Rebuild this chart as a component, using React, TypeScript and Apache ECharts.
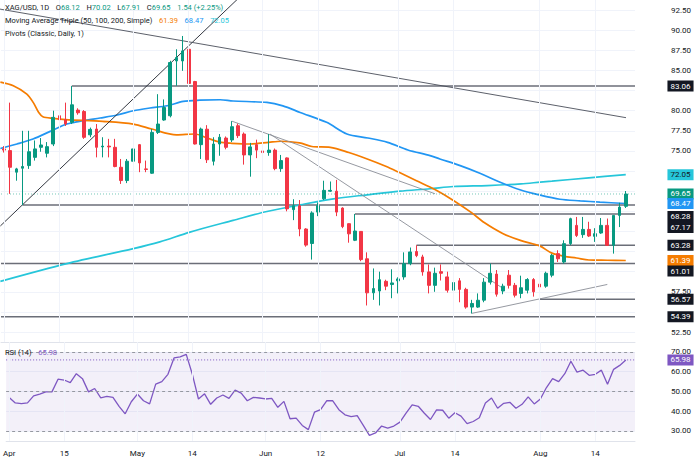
import React, { useEffect, useRef } from 'react';
import * as echarts from 'echarts';

const FONT = 'Roboto, "Noto Sans", sans-serif';
const GREEN = '#089981';
const RED = '#f23645';
const ORANGE = '#f57c00';
const BLUE = '#2196f3';
const CYAN = '#26c6da';
const PURPLE = '#7e57c2';
const DARK = '#131722';
const GRID = '#f0f3fa';
const PIVOT = '#6b6e78';

// trading days (2026), plus one empty slot on the right
const dates = [
  '2026-04-01','2026-04-02','2026-04-06','2026-04-07','2026-04-08','2026-04-09','2026-04-10','2026-04-13','2026-04-14','2026-04-15',
  '2026-04-16','2026-04-17','2026-04-20','2026-04-21','2026-04-22','2026-04-23','2026-04-24','2026-04-27','2026-04-28','2026-04-29',
  '2026-04-30','2026-05-01','2026-05-04','2026-05-05','2026-05-06','2026-05-07','2026-05-08','2026-05-11','2026-05-12','2026-05-13',
  '2026-05-14','2026-05-15','2026-05-18','2026-05-19','2026-05-20','2026-05-21','2026-05-22','2026-05-25','2026-05-26','2026-05-27',
  '2026-05-28','2026-05-29','2026-06-01','2026-06-02','2026-06-03','2026-06-04','2026-06-05','2026-06-08','2026-06-09','2026-06-10',
  '2026-06-11','2026-06-12','2026-06-15','2026-06-16','2026-06-17','2026-06-18','2026-06-19','2026-06-22','2026-06-23','2026-06-24',
  '2026-06-25','2026-06-26','2026-06-29','2026-06-30','2026-07-01','2026-07-02','2026-07-03','2026-07-06','2026-07-07','2026-07-08',
  '2026-07-09','2026-07-10','2026-07-13','2026-07-14','2026-07-15','2026-07-16','2026-07-17','2026-07-20','2026-07-21','2026-07-22',
  '2026-07-23','2026-07-24','2026-07-27','2026-07-28','2026-07-29','2026-07-30','2026-07-31','2026-08-03','2026-08-04','2026-08-05',
  '2026-08-06','2026-08-07','2026-08-10','2026-08-11','2026-08-12','2026-08-13','2026-08-14','2026-08-17','2026-08-18','2026-08-19',
  '2026-08-20','2026-08-21',
];
const futureDates = ['2026-08-24'];

const opens = [
  75.25,75.04,72.36,72.85,73.18,74.2,75.45,74.71,75.86,79.37,
  78.88,78.55,80.07,79.9,77.0,77.72,75.5,75.6,75.45,72.97,
  71.32,73.72,75.78,72.77,72.23,77.3,78.84,79.37,86.18,86.18,
  87.63,83.62,75.78,77.7,73.72,75.86,76.6,76.36,78.13,77.1,
  74.5,75.78,75.0,74.8,75.1,72.8,74.13,67.7,68.2,65.3,
  63.5,67.4,69.05,70.0,70.0,67.9,65.96,63.9,65.0,61.6,
  57.37,57.6,58.8,58.4,58.86,59.35,61.0,62.5,61.83,59.97,
  58.3,60.0,59.35,57.7,58.86,57.8,55.6,55.6,56.46,58.7,
  59.7,57.6,59.56,58.3,57.3,57.7,59.02,58.45,58.2,59.56,
  62.24,61.2,63.48,65.75,64.6,65.25,64.39,64.8,65.75,63.27,
  66.99,68.12,
];
const highs = [
  75.6,81.0,72.9,77.5,77.5,76.3,76.6,76.1,80.0,81.0,
  81.0,83.06,80.3,80.07,77.9,78.34,76.7,76.5,76.5,74.0,
  74.0,76.9,75.86,73.8,77.72,82.05,81.4,86.2,87.63,89.28,
  88.45,83.7,77.9,78.2,76.7,77.1,76.8,78.7,78.4,77.3,
  76.0,76.4,76.3,77.1,75.3,74.5,74.2,69.0,68.9,65.4,
  67.5,68.6,71.3,71.2,71.4,68.0,66.0,67.17,65.05,62.4,
  60.4,60.0,59.0,60.3,59.3,62.4,63.0,63.28,62.1,60.9,
  60.5,60.9,60.0,59.6,59.2,58.0,56.5,57.3,59.2,61.0,
  60.2,58.5,60.2,58.6,59.5,59.2,59.2,59.1,60.0,62.2,
  62.66,63.9,66.7,66.8,66.8,66.2,65.4,66.66,66.6,67.0,
  68.56,70.02,
];
const lows = [
  74.8,69.67,71.3,68.28,72.77,73.8,74.9,74.2,75.6,78.3,
  78.1,78.34,79.5,76.5,76.7,74.2,74.2,74.2,72.97,70.9,
  71.0,73.6,72.36,72.36,72.15,77.1,78.75,79.17,83.09,84.95,
  83.3,75.8,74.0,73.5,73.2,74.4,75.2,76.1,76.6,73.3,
  71.8,74.1,73.2,74.4,72.6,72.4,67.5,66.4,64.4,63.1,
  61.5,66.9,68.9,69.9,66.9,65.4,63.6,63.8,61.3,55.8,
  56.5,55.8,57.7,56.7,57.3,59.0,60.8,61.8,59.5,57.3,
  57.5,58.9,57.4,57.2,56.2,55.4,54.8,55.5,56.2,58.4,
  56.9,57.2,57.9,56.8,56.7,57.3,56.9,56.57,58.0,59.3,
  61.2,61.0,63.3,64.3,64.2,64.3,63.7,64.7,63.19,62.24,
  65.54,67.91,
];
const closes = [
  75.1,72.97,72.77,73.06,74.9,75.25,75.74,75.53,79.17,78.88,
  78.34,80.73,79.74,76.69,77.68,75.45,75.6,75.5,73.06,71.32,
  73.72,75.25,73.51,72.7,77.3,78.34,80.4,85.98,86.6,87.42,
  83.38,75.86,77.72,73.9,75.86,76.7,75.45,78.01,76.9,74.5,
  75.5,75.1,74.8,75.1,72.8,73.8,67.8,68.2,65.3,63.3,
  67.3,68.2,70.1,70.1,67.4,65.6,64.7,65.05,61.5,57.37,
  57.9,59.0,58.2,58.6,59.1,61.0,62.45,62.0,59.97,58.3,
  59.8,59.8,57.7,58.65,57.8,55.6,56.05,56.45,58.7,59.8,
  57.2,58.2,58.3,57.08,58.0,59.02,57.5,58.1,59.8,62.03,
  61.6,63.48,66.58,64.5,65.25,64.43,64.72,65.75,63.27,66.99,
  68.02,69.65,
];

const rsi14 = [
  47,44.2,43.8,44.2,47.8,48.7,49.8,49.8,56.2,55.8,
  54.5,59,56.5,49.8,51.5,46.8,47.5,47,42.5,38.7,
  44.8,48.7,45.3,43.7,53.7,55,58.7,67,67.5,68.8,
  58.7,46.2,48.8,43.5,46.7,48.2,46.5,50.7,49.2,45.3,
  47,46.7,46.2,46.5,42,45,36.2,36.5,32.8,30.7,
  39.5,40.8,45.3,45.3,40.8,38.2,37.3,37.8,32.8,27.8,
  29,32.5,31.5,32.5,34.5,39,43.2,42.5,39,35.8,
  40.7,40.5,36.5,39.2,37.5,33.7,34.8,36.7,44.2,46.7,
  41.5,44,44.5,41.5,43.5,47.3,43.7,46.2,52,56.5,
  55,59,65.3,59.8,60.8,58.2,58.7,60.8,53.7,61.2,
  63.2,65.98,
];
const rsiLevels = [70, 50, 30];

// moving averages: [bar position, value]
const ma50Points = [
  [-0.6,83.55],[1.5,83.1],[3.7,82.06],[4.75,81.0],[5.6,79.8],[6.3,79.25],[8,79.05],[10,78.9],[16,78.67],[21,78.34],
  [24,77.72],[28,77.0],[31,77.1],[33,76.6],[35,76.1],[37,75.95],[40,75.86],[43,76.07],[45,76.2],[48,76.0],
  [50,75.55],[53,75.45],[56,74.8],[59,74.0],[62,73.1],[64,72.4],[67,71.3],[70,70.2],[73,68.85],[76,67.3],
  [78,66.1],[81,64.75],[84,63.85],[87,63.2],[89,62.3],[91,61.9],[93,61.7],[95,61.45],[98,61.42],[101,61.39],
];
const ma100Points = [
  [-0.6,75.3],[2.1,75.86],[4.7,76.48],[7.5,77.43],[10.2,78.34],[12.8,78.75],[15.6,79.09],[18.4,79.46],[21,79.99],[23.7,80.33],
  [26.5,80.61],[29.1,81.15],[31.8,81.3],[35.1,81.36],[37.2,81.2],[42.7,81.02],[45.3,80.6],[48.1,79.78],[52.4,78.55],[55.7,77.1],
  [59.1,76.61],[62.3,76.07],[65.6,75.12],[69.2,74.42],[70.8,74.0],[74.1,73.18],[77.3,72.23],[80.6,71.11],[83.8,70.17],[87.1,69.5],
  [90.3,69.0],[93.6,68.8],[96.8,68.64],[101,68.47],
];
const ma200Points = [
  [-0.6,58.8],[10.2,61.0],[21,62.86],[25.3,63.7],[30.2,64.92],[37.2,66.37],[42.7,67.48],[48.1,68.3],[53.5,69.05],[59,69.55],
  [64.3,70.0],[69.2,70.3],[73,70.58],[78.5,70.7],[84,70.91],[87.1,71.12],[89,71.24],[95,71.66],[101,72.05],
];

// horizontal levels: price and the bar they start from
const pivotPrices = [83.06, 68.28, 67.17, 63.28, 61.01, 56.57, 54.39];
const pivotStarts = [11, 3, 57, 67, -0.5, 87, -0.5];

// drawn trend lines: [bar position, price] end points
const trendUp = [[-0.6, 65.68], [38.6, 94.35]];
const trendLongDown = [[-0.66, 92.62], [101.04, 79.13]];
const trendSteepDown = [[43.2, 77.1], [80.9, 58.0]];
const trendShallowDown = [[37.0, 78.7], [70.0, 69.68]];
const trendSupport = [[76.0, 54.82], [98.0, 58.41]];

const tickDates = ['2026-04-01','2026-04-15','2026-05-01','2026-05-14','2026-06-01','2026-06-12','2026-07-01','2026-07-14','2026-08-03','2026-08-14'];
const tickTexts = ['Apr','15','May','14','Jun','12','Jul','14','Aug','14'];

const PX_PER_PRICE = 8.075;

export default function App() {
  const ref = useRef<HTMLDivElement>(null);
  useEffect(() => {
    const chart = echarts.init(ref.current as HTMLDivElement, null, { renderer: 'svg' });
    const categories = dates.concat(futureDates);
    const n = categories.length;
    const xMin = -0.5;
    const xMax = n - 0.5;
    const tickIdx = tickDates.map((d) => categories.indexOf(d));
    const lastClose = closes[closes.length - 1];
    const lastRsi = rsi14[rsi14.length - 1];
    const ma50Last = ma50Points[ma50Points.length - 1][1];
    const ma100Last = ma100Points[ma100Points.length - 1][1];
    const ma200Last = ma200Points[ma200Points.length - 1][1];

    const tags = [
      { value: pivotPrices[0], bg: DARK, fg: '#ffffff', dy: 0 },
      { value: ma200Last, bg: CYAN, fg: DARK, dy: 0 },
      { value: lastClose, bg: GREEN, fg: '#ffffff', dy: 0 },
      { value: ma100Last, bg: BLUE, fg: '#ffffff', dy: 0 },
      { value: pivotPrices[1], bg: DARK, fg: '#ffffff', dy: 11.5 },
      { value: pivotPrices[2], bg: DARK, fg: '#ffffff', dy: 13.5 },
      { value: pivotPrices[3], bg: DARK, fg: '#ffffff', dy: 0 },
      { value: ma50Last, bg: ORANGE, fg: '#ffffff', dy: 0 },
      { value: pivotPrices[4], bg: DARK, fg: '#ffffff', dy: 7.5 },
      { value: pivotPrices[5], bg: DARK, fg: '#ffffff', dy: 0 },
      { value: pivotPrices[6], bg: DARK, fg: '#ffffff', dy: 0 },
    ];
    // price level each tag box is drawn at (after being pushed apart)
    const tagLevels = tags.map((t) => t.value - t.dy / PX_PER_PRICE);

    const tagPoint = (t: { value: number; bg: string; fg: string; dy: number }) => ({
      coord: [xMax, t.value],
      value: t.value,
      symbol: 'rect',
      symbolSize: 1,
      itemStyle: { color: 'rgba(0,0,0,0)' },
      label: {
        show: true,
        position: 'inside',
        offset: [45.5, t.dy],
        formatter: t.value.toFixed(2),
        color: t.fg,
        backgroundColor: t.bg,
        padding: [1, 3, 1, 3],
        lineHeight: 9,
        fontSize: 8,
        fontFamily: FONT,
      },
    });

    const vGrid = (xi: number, yi: number) => ({
      type: 'line',
      xAxisIndex: xi,
      yAxisIndex: yi,
      data: [],
      z: 1,
      silent: true,
      markLine: {
        silent: true,
        symbol: ['none', 'none'],
        label: { show: false },
        lineStyle: { color: GRID, width: 1, type: 'solid' },
        emphasis: { disabled: true },
        data: tickIdx.map((i) => ({ xAxis: i })),
      },
    });

    const simpleLine = (data: number[][], color: string, width: number, extra: any = {}) => ({
      type: 'line',
      xAxisIndex: 1,
      yAxisIndex: 0,
      data,
      symbol: 'none',
      silent: true,
      lineStyle: { color, width },
      emphasis: { disabled: true },
      ...extra,
    });

    const isStep = (v: number, step: number) => Math.abs(v / step - Math.round(v / step)) < 1e-6;
    const priceLabel = (v: number) =>
      isStep(v, 2.5) && !tagLevels.some((p) => Math.abs(p - v) < 0.8) ? v.toFixed(2) : '';
    const rsiLabel = (v: number) => (isStep(v, 10) ? v.toFixed(2) : '');

    const option: any = {
      animation: false,
      backgroundColor: '#ffffff',
      textStyle: { fontFamily: FONT },
      grid: [
        { left: 1, top: -1.09, width: 634, height: 343.19 },
        { left: 1, top: 342.1, width: 634, height: 98.75 },
      ],
      xAxis: [
        {
          type: 'category', gridIndex: 0, data: categories, boundaryGap: true,
          axisLabel: { show: false }, axisTick: { show: false },
          axisLine: { show: true, lineStyle: { color: '#e0e3eb', width: 1 } },
          splitLine: { show: false },
        },
        { type: 'value', gridIndex: 0, min: xMin, max: xMax, show: false, splitLine: { show: false } },
        {
          type: 'category', gridIndex: 1, data: categories, boundaryGap: true,
          axisTick: { show: false },
          axisLine: { show: true, lineStyle: { color: '#e0e3eb', width: 1 } },
          splitLine: { show: false },
          axisLabel: {
            interval: (i: number, v: string) => tickDates.indexOf(v) >= 0,
            formatter: (v: string) => tickTexts[tickDates.indexOf(v)] || '',
            fontSize: 8, color: DARK, margin: 9, fontFamily: FONT,
          },
        },
        { type: 'value', gridIndex: 1, min: xMin, max: xMax, show: false, splitLine: { show: false } },
      ],
      yAxis: [
        {
          type: 'value', gridIndex: 0, position: 'right', min: 51.25, max: 93.75, interval: 1.25,
          axisLine: { show: false }, axisTick: { show: false },
          axisLabel: { margin: 36, fontSize: 8, color: DARK, fontFamily: FONT, formatter: priceLabel },
          splitLine: { show: true, lineStyle: { color: ['rgba(0,0,0,0)', GRID], width: 1 } },
        },
        {
          type: 'value', gridIndex: 1, position: 'right', min: 25, max: 75, interval: 5,
          axisLine: { show: false }, axisTick: { show: false },
          axisLabel: { margin: 36, fontSize: 8, color: DARK, fontFamily: FONT, formatter: rsiLabel },
          splitLine: { show: true, lineStyle: { color: ['rgba(0,0,0,0)', GRID], width: 1 } },
        },
      ],
      series: [
        vGrid(1, 0),
        vGrid(3, 1),
        ...pivotPrices.map((p, k) => simpleLine([[pivotStarts[k], p], [xMax, p]], PIVOT, 1.6)),
        simpleLine(ma200Points, CYAN, 1.7, { smooth: 0.3 }),
        simpleLine(ma100Points, BLUE, 1.7, { smooth: 0.3 }),
        simpleLine(ma50Points, ORANGE, 1.7, { smooth: 0.3 }),
        simpleLine(trendUp, '#1e222d', 0.9),
        simpleLine(trendLongDown, '#4a4e59', 0.9),
        simpleLine(trendSteepDown, '#8a8d96', 0.9),
        simpleLine(trendShallowDown, '#8a8d96', 0.9),
        simpleLine(trendSupport, '#8a8d96', 0.9),
        simpleLine([[xMin, lastClose], [xMax, lastClose]], 'rgba(8,153,129,0.55)', 1, {
          lineStyle: { color: 'rgba(8,153,129,0.55)', width: 1, type: [1, 2] },
        }),
        {
          type: 'candlestick',
          xAxisIndex: 0,
          yAxisIndex: 0,
          data: opens.map((o, i) => [o, closes[i], lows[i], highs[i]]),
          barWidth: 3.2,
          silent: true,
          z: 3,
          itemStyle: { color: GREEN, color0: RED, borderColor: GREEN, borderColor0: RED, borderWidth: 1 },
        },
        {
          type: 'line',
          xAxisIndex: 1,
          yAxisIndex: 0,
          data: [[xMax, lastClose]],
          symbol: 'none',
          silent: true,
          z: 5,
          lineStyle: { width: 0 },
          markPoint: { silent: true, data: tags.map(tagPoint) },
        },
        {
          type: 'line',
          xAxisIndex: 3,
          yAxisIndex: 1,
          data: rsi14.map((v, i) => [i, v]),
          symbol: 'none',
          silent: true,
          z: 3,
          lineStyle: { color: PURPLE, width: 1.3 },
          markArea: {
            silent: true,
            itemStyle: { color: 'rgba(126,87,194,0.09)' },
            data: [[{ yAxis: rsiLevels[2] }, { yAxis: rsiLevels[0] }]],
          },
          markLine: {
            silent: true,
            symbol: ['none', 'none'],
            label: { show: false },
            lineStyle: { color: '#9598a1', width: 1, type: [3, 3] },
            data: rsiLevels.map((l) => ({ yAxis: l })),
          },
        },
        {
          type: 'line',
          xAxisIndex: 3,
          yAxisIndex: 1,
          data: [[xMin, lastRsi], [xMax, lastRsi]],
          symbol: 'none',
          silent: true,
          z: 4,
          lineStyle: { color: PURPLE, width: 1, type: [1, 2] },
          markPoint: {
            silent: true,
            data: [tagPoint({ value: lastRsi, bg: PURPLE, fg: '#ffffff', dy: 0 })],
          },
        },
      ],
      graphic: [
        {
          type: 'text', x: 5, y: 7, z: 10,
          style: {
            text: '{d|XAG/USD, 1D}  {d|O}{g|' + opens[opens.length - 1].toFixed(2) + '}  {d|H}{g|' + highs[highs.length - 1].toFixed(2) +
              '}  {d|L}{g|' + lows[lows.length - 1].toFixed(2) + '}  {d|C}{g|' + lastClose.toFixed(2) + '}  {g|1.54 (+2.25%)}',
            verticalAlign: 'middle',
            rich: {
              d: { fill: DARK, fontSize: 7.5, fontFamily: FONT },
              g: { fill: GREEN, fontSize: 7.5, fontFamily: FONT },
            },
          },
        },
        {
          type: 'text', x: 5, y: 20, z: 10,
          style: {
            text: '{d|Moving Average Triple (50, 100, 200, Simple)}  {o|' + ma50Last.toFixed(2) + '}  {b|' + ma100Last.toFixed(2) + '}  {c|' + ma200Last.toFixed(2) + '}',
            verticalAlign: 'middle',
            rich: {
              d: { fill: DARK, fontSize: 7.5, fontFamily: FONT },
              o: { fill: ORANGE, fontSize: 7.5, fontFamily: FONT },
              b: { fill: BLUE, fontSize: 7.5, fontFamily: FONT },
              c: { fill: CYAN, fontSize: 7.5, fontFamily: FONT },
            },
          },
        },
        {
          type: 'text', x: 5, y: 33, z: 10,
          style: { text: 'Pivots (Classic, Daily, 1)', verticalAlign: 'middle', fill: DARK, fontSize: 7.5, fontFamily: FONT },
        },
        {
          type: 'text', x: 5, y: 352, z: 10,
          style: {
            text: '{d|RSI (14)}  {p|' + lastRsi.toFixed(2) + '}',
            verticalAlign: 'middle',
            rich: {
              d: { fill: DARK, fontSize: 7.5, fontFamily: FONT },
              p: { fill: PURPLE, fontSize: 7.5, fontFamily: FONT },
            },
          },
        },
      ],
    };

    chart.setOption(option);
    return () => chart.dispose();
  }, []);

  return (
    <div
      ref={ref}
      style={{ position: 'fixed', left: 0, top: 0, width: 700, height: 463, background: '#ffffff' }}
    />
  );
}
